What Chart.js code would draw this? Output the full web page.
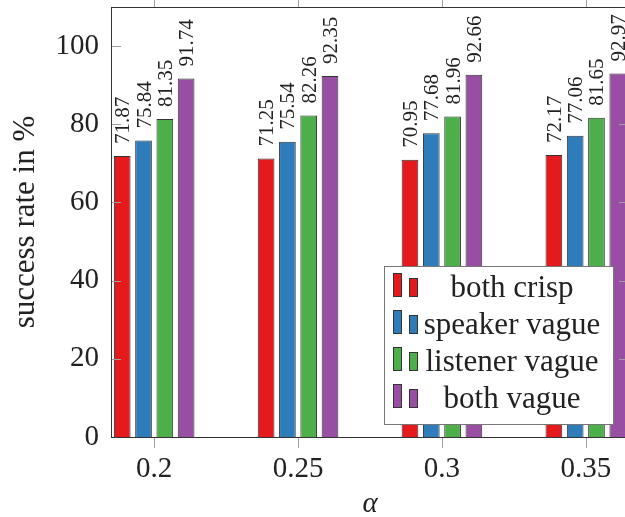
<!DOCTYPE html>
<html>
<head>
<meta charset="utf-8">
<script src="https://cdn.jsdelivr.net/npm/chart.js@4/dist/chart.umd.min.js"></script>
<style>
  html, body { margin: 0; padding: 0; overflow: hidden; background: #fff; }
  #wrap { width: 640px; height: 517px; }
</style>
</head>
<body>
<div id="wrap"><canvas id="success-chart"></canvas></div>
<script>
(function () {
  "use strict";

  const ALPHAS = [0.2, 0.25, 0.3, 0.35];
  const ALPHA_LABELS = ["0.2", "0.25", "0.3", "0.35"];
  const Y_TICKS = [0, 20, 40, 60, 80, 100];

  const BOTH_CRISP = [71.87, 71.25, 70.95, 72.17];
  const SPEAKER_VAGUE = [75.84, 75.54, 77.68, 77.06];
  const LISTENER_VAGUE = [81.35, 82.26, 81.96, 81.65];
  const BOTH_VAGUE = [91.74, 92.35, 92.66, 92.97];

  const SERIES = [
    { label: "both crisp", color: "#e41a1c", data: BOTH_CRISP },
    { label: "speaker vague", color: "#2f7cba", data: SPEAKER_VAGUE },
    { label: "listener vague", color: "#4daf4a", data: LISTENER_VAGUE },
    { label: "both vague", color: "#984ea3", data: BOTH_VAGUE },
  ];

  const FONT = "'Liberation Serif', 'DejaVu Serif', serif";
  const AXIS_COLOR = "#333";
  const TICK_COLOR = "#a0a0a0";

  Chart.defaults.font.family = FONT;
  Chart.defaults.color = "#222";

  // axis box + tick marks (x ticks outward, y ticks inward like pgfplots)
  const frame = {
    id: "frame",
    afterDatasetsDraw(chart) {
      const { ctx, chartArea: a, scales } = chart;
      ctx.save();
      ctx.lineWidth = 1;
      ctx.strokeStyle = TICK_COLOR;
      ctx.beginPath();
      ALPHAS.forEach((v) => {
        const x = Math.round(scales.x.getPixelForValue(v)) + 0.5;
        ctx.moveTo(x, a.bottom);
        ctx.lineTo(x, a.bottom + 11);
        ctx.moveTo(x, a.top);
        ctx.lineTo(x, a.top - 11);
      });
      Y_TICKS.forEach((v) => {
        const y = Math.round(scales.y.getPixelForValue(v)) + 0.5;
        ctx.moveTo(a.left, y);
        ctx.lineTo(a.left + 10, y);
        ctx.moveTo(a.right, y);
        ctx.lineTo(a.right - 10, y);
      });
      ctx.stroke();
      ctx.strokeStyle = AXIS_COLOR;
      ctx.strokeRect(Math.round(a.left) + 0.5, Math.round(a.top) + 0.5,
        Math.round(a.right - a.left), Math.round(a.bottom - a.top));
      ctx.restore();
    },
  };

  // rotated value labels above every bar
  const valueLabels = {
    id: "valueLabels",
    afterDatasetsDraw(chart) {
      const { ctx } = chart;
      ctx.save();
      ctx.font = "21px " + FONT;
      ctx.fillStyle = "#222";
      ctx.textAlign = "left";
      ctx.textBaseline = "alphabetic";
      chart.data.datasets.forEach((ds, i) => {
        chart.getDatasetMeta(i).data.forEach((bar, j) => {
          ctx.save();
          ctx.translate(bar.x, bar.y - 12);
          ctx.rotate(-Math.PI / 2);
          ctx.fillText(ds.data[j].y.toFixed(2), 0, 7);
          ctx.restore();
        });
      });
      ctx.restore();
    },
  };

  // pgfplots-style legend box inside the plot
  const boxLegend = {
    id: "boxLegend",
    afterDraw(chart) {
      const { ctx } = chart;
      const left = 384, top = 266, width = 229, height = 158;
      ctx.save();
      ctx.fillStyle = "#fff";
      ctx.fillRect(left, top, width, height);
      ctx.strokeStyle = "#777";
      ctx.lineWidth = 1;
      ctx.strokeRect(left + 0.5, top + 0.5, width, height);
      ctx.font = "31px " + FONT;
      ctx.textAlign = "center";
      ctx.textBaseline = "alphabetic";
      chart.data.datasets.forEach((ds, i) => {
        const base = 297 + i * 37;
        ctx.fillStyle = ds.backgroundColor;
        ctx.strokeStyle = AXIS_COLOR;
        ctx.fillRect(393, base - 24, 9, 24);
        ctx.strokeRect(393.5, base - 23.5, 8, 23);
        ctx.fillRect(409, base - 19, 9, 19);
        ctx.strokeRect(409.5, base - 18.5, 8, 18);
        ctx.fillStyle = "#222";
        ctx.fillText(ds.label, 512, base);
      });
      ctx.restore();
    },
  };

  function buildDatasets() {
    return SERIES.map((s) => ({
      label: s.label,
      data: ALPHAS.map((a, i) => ({ x: a, y: s.data[i] })),
      backgroundColor: s.color,
      borderColor: AXIS_COLOR,
      borderWidth: 1,
      categoryPercentage: 0.592,
      barPercentage: 0.784,
    }));
  }

  function init() {
    const canvas = document.getElementById("success-chart");
    new Chart(canvas, {
      type: "bar",
      data: { datasets: buildDatasets() },
      plugins: [frame, valueLabels, boxLegend],
      options: {
        responsive: true,
        maintainAspectRatio: false,
        animation: false,
        layout: { padding: { top: 7, right: 11, left: 0, bottom: 0 } },
        plugins: { legend: { display: false }, tooltip: { enabled: false } },
        scales: {
          x: {
            type: "linear",
            offset: false,
            min: 0.185,
            max: 0.365,
            grid: { display: false, drawTicks: false },
            border: { display: false },
            afterBuildTicks(scale) {
              scale.ticks = ALPHAS.map((v) => ({ value: v }));
            },
            afterFit(scale) {
              scale.height = 80;
              scale.paddingLeft = 0;
              scale.paddingRight = 0;
            },
            ticks: {
              padding: 15,
              color: "#222",
              font: { size: 29 },
              callback(value, index) {
                return ALPHA_LABELS[index];
              },
            },
            title: {
              display: true,
              text: "α",
              color: "#222",
              font: { size: 29, style: "italic", lineHeight: 1 },
              padding: { top: 0, bottom: -1.5 },
            },
          },
          y: {
            min: 0,
            max: 110,
            grid: { display: false, drawTicks: false },
            border: { display: false },
            afterBuildTicks(scale) {
              scale.ticks = Y_TICKS.map((v) => ({ value: v }));
            },
            afterFit(scale) {
              scale.width = 111;
              scale.paddingTop = 0;
              scale.paddingBottom = 0;
            },
            ticks: {
              padding: 12,
              color: "#222",
              font: { size: 29 },
            },
            title: {
              display: true,
              text: "success rate in %",
              color: "#222",
              font: { size: 31, lineHeight: 1 },
              padding: { top: 10, bottom: 0 },
            },
          },
        },
      },
    });
  }

  if (document.readyState === "loading") {
    document.addEventListener("DOMContentLoaded", init);
  } else {
    init();
  }
})();
</script>
</body>
</html>
